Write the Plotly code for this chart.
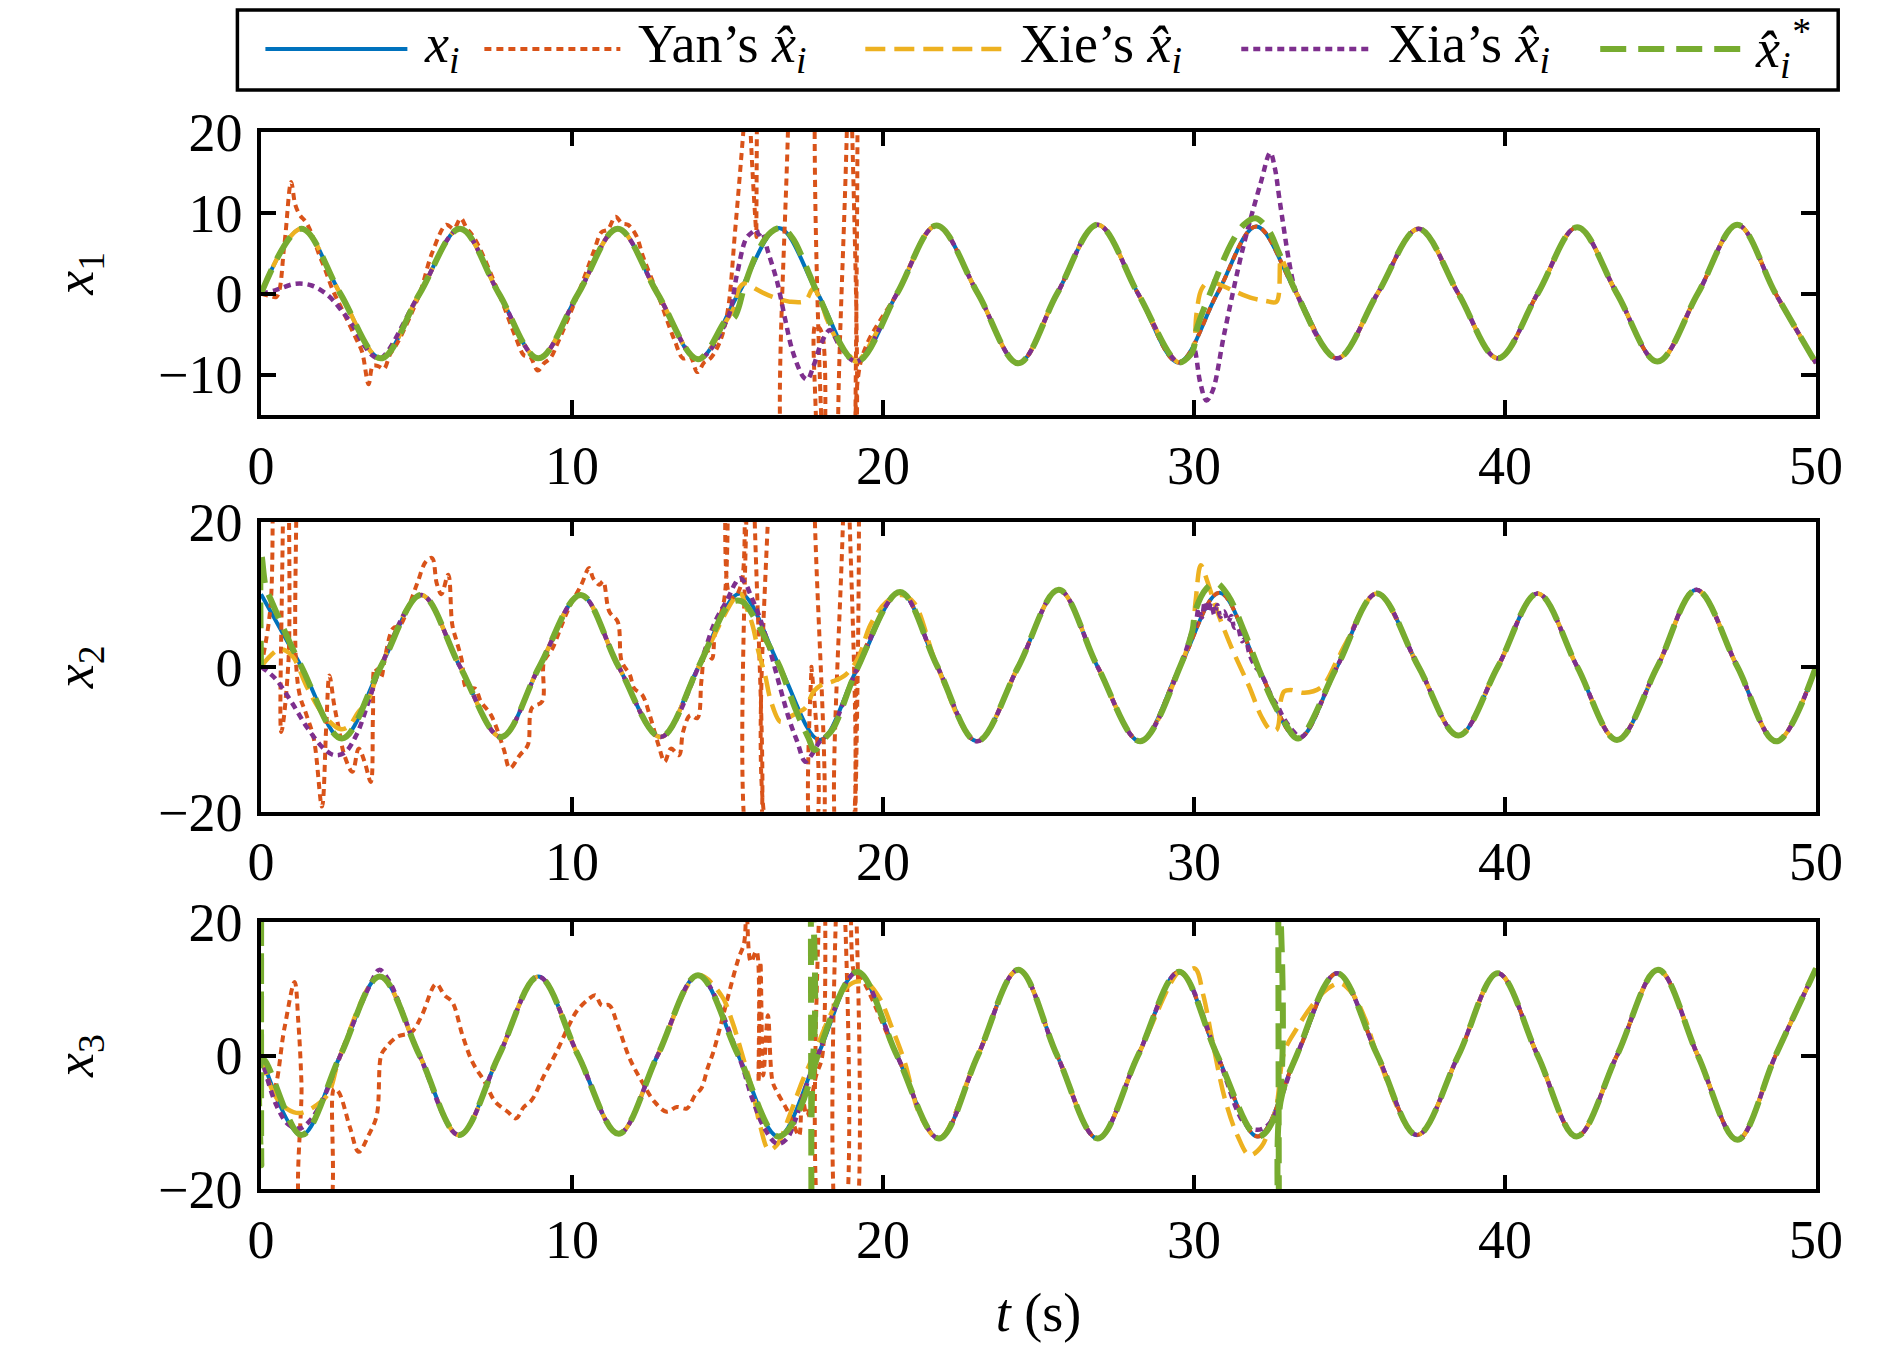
import plotly.graph_objects as go

# ---------------- data ----------------
X_TICKS = [0, 10, 20, 30, 40, 50]
X_TICKTEXT = ["0", "10", "20", "30", "40", "50"]
Y1_TICKS = [-10, 0, 10, 20]
Y1_TICKTEXT = ["\u221210", "0", "10", "20"]
Y23_TICKS = [-20, 0, 20]
Y23_TICKTEXT = ["\u221220", "0", "20"]

# true states x_i : peaks / zero crossings / troughs (time s, value)
T1 = [0, 1.3, 2.55, 3.85, 5.1, 6.4, 7.65, 8.92, 10.2, 11.47, 12.75, 14.05, 15.35, 16.65,
      17.9, 19.15, 20.45, 21.72, 23.05, 24.35, 25.6, 26.9, 28.2, 29.5, 30.75, 32.0, 33.3,
      34.6, 35.9, 37.22, 38.5, 39.77, 41.05, 42.32, 43.6, 44.9, 46.2, 47.47, 48.7, 50]
X1 = [0, 8.0, 0, -8.0, 0, 8.0, 0, -8.0, 0, 8.0, 0, -8.1, 0, 8.1,
      0, -8.4, 0, 8.4, 0, -8.6, 0, 8.5, 0, -8.5, 0, 8.3, 0,
      -8.0, 0, 8.0, 0, -8.0, 0, 8.2, 0, -8.4, 0, 8.5, 0, -8.6]

T2 = [0, 1.3, 2.6, 3.85, 5.15, 6.4, 7.72, 8.95, 10.28, 11.5, 12.85, 14.07, 15.4, 16.68,
      17.97, 19.2, 20.55, 21.75, 23.02, 24.35, 25.65, 26.9, 28.27, 29.55, 30.82, 32.05,
      33.35, 34.6, 35.88, 37.22, 38.5, 39.77, 41.05, 42.32, 43.6, 44.9, 46.15, 47.47, 48.72, 50]
X2 = [10.0, 0, -9.9, 0, 9.9, 0, -9.7, 0, 9.9, 0, -9.7, 0, 10.1, 0,
      -10.1, 0, 10.3, 0, -10.3, 0, 10.6, 0, -10.3, 0, 10.2, 0,
      -9.9, 0, 10.1, 0, -9.5, 0, 10.1, 0, -10.1, 0, 10.6, 0, -10.3, 0]

T3 = [0, 1.3, 2.55, 3.82, 5.1, 6.37, 7.65, 8.92, 10.2, 11.5, 12.75, 14.05, 15.35, 16.63,
      17.9, 19.17, 20.45, 21.8, 23.05, 24.35, 25.6, 26.9, 28.2, 29.52, 30.75, 32.05, 33.3,
      34.6, 35.9, 37.17, 38.5, 39.77, 41.05, 42.3, 43.6, 44.92, 46.2, 47.47, 48.7, 50]
X3 = [0, -11.9, 0, 11.8, 0, -11.9, 0, 11.8, 0, -11.7, 0, 12.0, 0, -12.1,
      0, 12.5, 0, -12.4, 0, 12.8, 0, -12.4, 0, 12.5, 0, -12.1, 0,
      12.3, 0, -11.9, 0, 12.3, 0, -12.1, 0, 12.8, 0, -12.6, 0, 13.0]

# ---- estimates: where they differ from x_i, (t, value) ----
# panel 1 (x1)
YAN1 = [(0, 0), (0.3, -0.3), (0.5, -0.4), (0.75, 6.0), (0.97, 13.8), (1.1, 11.0), (1.25, 9.7),
        (1.45, 8.8), (1.65, 7.2), (1.85, 5.0), (2.05, 3.1), (2.3, 0.5), (2.55, -1.5), (2.8, -3.5),
        (3.05, -5.5), (3.25, -7.2), (3.46, -11.2), (3.6, -8.9), (3.78, -9.0), (3.95, -9.3),
        (4.15, -7.5), (4.4, -6.0), (5.1, 0.0), (5.5, 5.0), (5.96, 8.5), (6.2, 8.0), (6.42, 9.3),
        (6.6, 8.2), (6.9, 6.6), (7.65, 0.0), (8.2, -5.5), (8.45, -7.6), (8.65, -7.8), (8.9, -9.5),
        (9.1, -8.6), (9.3, -8.0), (9.55, -6.0), (10.2, 0.0), (10.7, 5.2), (10.95, 7.6),
        (11.15, 7.9), (11.4, 9.5), (11.6, 8.7), (11.8, 8.5), (12.06, 7.2), (12.3, 4.4),
        (12.75, 0.0), (13.3, -5.8), (13.57, -8.0), (13.8, -7.8), (14.03, -9.7), (14.25, -8.5),
        (14.45, -8.0), (14.75, -6.0), (15.0, -2.3), (15.25, 8.0), (15.55, 22.0), (15.9, 40.0),
        (15.93, 7.0), (15.97, 40.0), (16.65, 40.0), (17.0, -25.0), (17.65, -25.0), (17.83, -3.9),
        (18.03, -4.8), (18.1, -25.0), (18.16, 40.0), (18.6, 40.0), (18.72, -25.0), (18.95, -25.0),
        (19.0, 40.0), (19.05, 40.0), (19.12, -25.0), (19.3, -8.2)]
XIE1_A = [(15.0, -3.1), (15.2, -1.8), (15.4, 0.8), (15.6, 1.3), (15.9, 0.6), (16.2, 0.0),
          (16.6, -0.6), (17.0, -1.0), (17.5, -0.9), (17.75, 0.6), (17.97, -0.6), (18.2, -3.2),
          (18.56, -6.0), (18.95, -7.8)]
XIE1_B = [(29.9, -7.5), (30.0, -6.6), (30.08, -2.5), (30.25, 0.6), (30.5, 1.5), (30.9, 1.0),
          (31.3, 0.3), (31.9, -0.6), (32.3, -0.9), (32.65, -1.0), (32.8, 4.3), (33.0, 2.7)]
XIA1_A = [(0, 0), (0.45, 0.4), (1.1, 1.2), (1.63, 1.0), (2.15, -0.2), (2.55, -1.9), (2.94, -3.9),
          (3.3, -6.3), (3.6, -7.7)]
XIA1_B = [(15.0, -3.1), (15.3, 2.3), (15.6, 6.8), (15.8, 7.6), (15.93, 7.9), (16.0, 7.3),
          (16.1, 7.6), (16.3, 5.2), (16.6, 1.4), (16.85, -3.1), (17.1, -7.2), (17.44, -10.3),
          (17.57, -10.6), (17.77, -8.9), (18.03, -6.0), (18.3, -4.5), (18.6, -6.4)]
XIA1_C = [(29.9, -7.5), (30.0, -6.8), (30.2, -11.0), (30.4, -13.2), (30.6, -12.0), (30.97, -5.0),
          (31.56, 5.4), (32.14, 13.6), (32.45, 17.4), (32.6, 15.5), (32.75, 11.6), (33.05, 4.1),
          (33.2, 1.2)]
STAR1_A = [(15.0, -3.1), (15.2, -3.0), (15.35, -1.8), (15.55, 1.0), (16.0, 5.4), (16.4, 7.6),
           (16.75, 8.1), (17.1, 6.8), (17.4, 4.5), (17.65, 2.2)]
STAR1_B = [(29.9, -7.5), (30.0, -6.6), (30.08, -4.5), (30.6, 0.8), (31.2, 6.2), (31.6, 8.5),
           (31.98, 9.3), (32.4, 7.8), (32.7, 5.3), (33.0, 2.7)]

# panel 2 (x2)
YAN2 = [(0, 0), (0.3, 8.0), (0.52, 40.0), (0.6, 40.0), (0.65, -9.0), (0.88, 0.5), (1.0, 40.0),
        (1.06, 40.0), (1.12, 1.0), (1.25, -4.0), (1.45, -6.5), (1.7, -10.0), (1.96, -19.3),
        (2.1, -8.0), (2.2, -1.2), (2.35, -5.2), (2.5, -8.5), (2.68, -12.2), (2.94, -14.5),
        (3.14, -11.3), (3.33, -13.1), (3.53, -15.9), (3.6, -6.7), (3.66, -0.2), (3.85, -1.5),
        (4.0, 1.6), (4.25, 5.3), (4.45, 5.6), (4.75, 8.3), (5.04, 11.7), (5.3, 14.5), (5.5, 15.0),
        (5.65, 11.5), (5.8, 10.0), (6.02, 12.7), (6.15, 5.8), (6.29, 3.5), (6.45, 1.0),
        (6.61, -3.0), (6.88, -3.0), (7.07, -4.8), (7.4, -6.7), (7.8, -11.3), (8.0, -14.0),
        (8.32, -12.2), (8.58, -10.8), (8.71, -5.7), (9.04, -4.8), (9.1, 0.7), (9.37, 2.5),
        (9.63, 5.3), (9.9, 8.1), (10.3, 11.3), (10.55, 13.6), (10.68, 12.2), (10.88, 11.3),
        (11.0, 11.8), (11.2, 7.6), (11.47, 6.2), (11.6, 0.7), (11.86, -1.1), (12.0, -3.0),
        (12.26, -3.9), (12.5, -6.7), (12.78, -10.8), (12.98, -13.1), (13.18, -11.3),
        (13.44, -12.2), (13.57, -9.0), (13.8, -6.7), (14.03, -7.1), (14.16, -2.0), (14.3, 2.5),
        (14.5, 1.1), (14.6, 4.8), (14.9, 9.4), (15.0, 40.0), (15.05, 10.0), (15.2, 9.5),
        (15.45, 11.5), (15.58, 40.0), (15.62, 40.0), (15.7, -25.0), (15.95, -25.0), (16.0, 40.0),
        (16.25, 40.0), (16.5, -25.0), (17.66, -25.0), (17.7, 0.0), (17.74, -25.0), (17.98, -25.0),
        (18.02, 40.0), (18.5, 40.0), (18.6, -25.0), (18.9, -25.0), (18.95, 40.0), (19.05, 40.0),
        (19.1, -25.0), (19.16, -1.0)]
XIE2_A = [(0, 0), (0.3, 1.5), (0.58, 2.4), (0.8, 2.2), (1.04, 1.3), (1.5, -3.0), (2.02, -6.7),
          (2.55, -8.6), (2.8, -8.3), (3.14, -6.2), (3.4, -5.0)]
XIE2_B = [(15.4, 10.1), (15.6, 8.2), (15.8, 5.8), (16.0, 2.0), (16.2, -1.0), (16.4, -4.8),
          (16.7, -7.6), (16.9, -7.2), (17.1, -6.7), (17.5, -5.7), (17.77, -3.4), (18.03, -2.5),
          (18.4, -2.0), (18.8, -1.1), (19.2, 1.2), (19.6, 5.8), (20.1, 8.9), (20.6, 9.9),
          (21.0, 8.8)]
XIE2_C = [(29.95, 5.0), (30.05, 9.0), (30.22, 14.0), (30.42, 11.9), (30.7, 8.2), (31.2, 2.7),
          (31.78, -2.8), (32.17, -6.9), (32.46, -8.7), (32.66, -8.7), (32.8, -4.5), (32.9, -3.4),
          (33.1, -3.2), (33.55, -3.6), (34.1, -2.8), (34.6, 0.9), (34.9, 3.4)]
XIA2_A = [(0, 0), (0.45, -1.6), (0.97, -4.8), (1.5, -8.5), (2.02, -11.3), (2.35, -12.2),
          (2.68, -11.9), (3.07, -9.4), (3.46, -4.8)]
XIA2_B = [(14.6, 6.2), (15.0, 9.3), (15.25, 11.5), (15.4, 12.2), (15.6, 11.3), (15.73, 10.0),
          (16.0, 7.2), (16.35, 2.5), (16.7, -3.0), (17.0, -7.5), (17.24, -10.3), (17.5, -13.1),
          (17.7, -12.2), (17.97, -10.3), (18.3, -9.0)]
XIA2_C = [(29.95, 5.0), (30.05, 5.9), (30.15, 8.0), (30.25, 6.8), (30.35, 9.0), (30.45, 7.5),
          (30.55, 8.8), (30.65, 7.2), (30.75, 8.5), (30.85, 6.9), (30.97, 7.6), (31.1, 6.2),
          (31.2, 7.0), (31.3, 5.4), (31.4, 5.5), (31.55, 3.5), (31.65, 3.9), (31.78, 1.8),
          (31.97, 0.0), (32.1, -0.6), (32.27, -1.9), (32.4, -3.2), (32.56, -4.6), (32.7, -5.5),
          (32.86, -6.9), (33.15, -8.7), (33.45, -9.7)]
STAR2_A = [(0, 0), (0.01, 15.4), (0.15, 11.0), (0.3, 9.4)]
STAR2_B = [(15.1, 8.8), (15.47, 9.0), (15.9, 6.5), (16.3, 3.2), (16.68, 0.0), (17.2, -6.0),
           (17.6, -9.8), (17.8, -11.5), (18.1, -10.0), (18.4, -8.5)]
STAR2_C = [(29.95, 5.0), (30.05, 7.8), (30.4, 10.8), (30.7, 11.6), (31.1, 9.8), (31.6, 5.0),
           (32.1, -0.5), (32.5, -4.5), (32.9, -7.6)]

# panel 3 (x3)
YAN3 = [(0, 0), (0.4, -5.0), (0.75, 4.0), (1.08, 11.0), (1.2, 5.0), (1.3, -4.0), (1.4, -25.0),
        (2.1, -25.0), (2.35, -5.0), (2.5, -5.5), (2.87, -10.9), (3.14, -14.4), (3.46, -11.9),
        (3.72, -9.0), (3.86, 0.0), (4.0, 1.1), (4.38, 2.8), (4.84, 3.5), (5.17, 6.0),
        (5.63, 10.7), (5.9, 9.0), (6.15, 8.0), (6.48, 3.0), (6.8, -1.0), (7.2, -4.0),
        (7.53, -6.9), (7.93, -8.4), (8.2, -9.4), (8.45, -7.7), (8.7, -6.7), (9.1, -3.0),
        (9.5, 0.5), (9.9, 4.5), (10.16, 6.7), (10.55, 8.5), (10.75, 9.0), (10.95, 7.5),
        (11.2, 7.5), (11.47, 4.5), (11.86, -0.5), (12.26, -4.0), (12.65, -6.9), (13.04, -8.4),
        (13.37, -7.7), (13.7, -7.9), (13.96, -5.9), (14.16, -4.9), (14.36, -1.9), (14.55, 0.6),
        (14.75, 4.0), (15.0, 8.5), (15.34, 14.3), (15.54, 17.0), (15.6, 25.0), (15.75, 14.0),
        (15.93, 15.6), (16.0, -4.0), (16.06, 14.0), (16.15, -3.0), (16.3, 6.0), (16.45, -3.9),
        (16.6, -5.5), (16.9, -8.0), (17.1, -10.0), (17.3, -12.0), (17.4, -6.0), (17.55, -9.0),
        (17.85, -3.0), (18.05, 0.0), (18.1, 40.0), (18.14, -30.0), (18.58, -30.0), (18.62, 40.0),
        (18.66, -30.0), (18.97, -30.0), (19.02, 40.0), (19.08, 12.4)]
XIE3_A = [(0, 0), (0.45, -6.0), (0.85, -8.0), (1.23, -8.6), (1.63, -7.9), (2.15, -5.8)]
XIE3_B = [(14.8, 9.0), (15.15, 5.1), (15.45, 0.5), (15.8, -5.2), (16.05, -10.5), (16.33, -14.1),
          (16.6, -13.3), (17.0, -8.9), (17.4, -3.9), (17.77, 0.1), (18.3, 6.0), (18.7, 9.5),
          (19.1, 11.0), (19.5, 10.8), (19.9, 8.5), (20.3, 4.0), (20.7, -1.0), (21.2, -9.0)]
XIE3_C = [(29.7, 12.3), (30.03, 13.0), (30.3, 9.0), (30.6, 2.0), (31.0, -6.6), (31.4, -12.0),
          (31.78, -14.9), (32.17, -13.6), (32.45, -10.5), (32.65, -7.6), (32.9, 0.5), (33.3, 4.0),
          (33.8, 7.5), (34.3, 10.0), (34.7, 10.8), (35.1, 9.2), (35.5, 5.5)]
XIA3_A = [(0, 0), (0.5, -7.5), (0.9, -10.4), (1.25, -10.9), (1.6, -9.6), (2.0, -6.5)]
XIA3_B = [(3.5, 10.5), (3.8, 12.8), (4.1, 11.3)]
XIA3_C = [(15.8, -6.5), (16.2, -11.0), (16.6, -13.2), (16.9, -12.5), (17.2, -9.4), (17.5, -5.0)]
XIA3_D = [(31.6, -10.0), (32.0, -11.1), (32.4, -10.3)]
STAR3_A = [(0, 0), (0.005, 30.0), (0.012, -16.4), (0.06, -0.6)]
STAR3_B = [(17.62, -4.1), (17.67, 30.0), (17.71, -30.0), (17.76, -2.6)]
STAR3_C = [(32.66, -8.3), (32.7, 30.0), (32.74, -30.0), (32.78, -7.0)]

NAMES = ["<i>x<sub>i</sub></i>", "Yan\u2019s <i>x\u0302<sub>i</sub></i>",
         "Xie\u2019s <i>x\u0302<sub>i</sub></i>", "Xia\u2019s <i>x\u0302<sub>i</sub></i>",
         "<i>x\u0302<sub>i</sub><sup>*</sup></i>"]
Y_TITLES = ["<i>x</i><sub>1</sub>", "<i>x</i><sub>2</sub>", "<i>x</i><sub>3</sub>"]
X_TITLE = "<i>t</i> (s)"

# ---------------- styling / layout ----------------
FONT = "Liberation Serif"
FS = 54
COLORS = ["#0072BD", "#D95319", "#EDB120", "#7E2F8E", "#77AC30"]
WIDTHS = [4, 4, 4.5, 4.5, 6]
DASHES = ["solid", "7px,5px", "20px,9px", "7px,5px", "26px,12px"]

W, H = 1874, 1335
ML, MR = 252.6, 66.2
PW = W - ML - MR
PANEL_PX = [(123.7, 407.0), (513.7, 803.7), (913.7, 1181.3)]


def xp(px):
    return (px - ML) / PW


def yp(py):
    return 1 - py / H


def splice(tt, vv, segs):
    pts = list(zip(tt, vv))
    for seg in segs:
        a, b = seg[0][0], seg[-1][0]
        pts = [p for p in pts if not (a <= p[0] <= b)]
        pts += list(seg)
    pts.sort(key=lambda p: p[0])
    return [p[0] for p in pts], [p[1] for p in pts]


PANELS = [
    (T1, X1, [[YAN1], [XIE1_A, XIE1_B], [XIA1_A, XIA1_B, XIA1_C], [STAR1_A, STAR1_B]]),
    (T2, X2, [[YAN2], [XIE2_A, XIE2_B, XIE2_C], [XIA2_A, XIA2_B, XIA2_C],
              [STAR2_A, STAR2_B, STAR2_C]]),
    (T3, X3, [[YAN3], [XIE3_A, XIE3_B, XIE3_C], [XIA3_A, XIA3_B, XIA3_C, XIA3_D],
              [STAR3_A, STAR3_B, STAR3_C]]),
]

fig = go.Figure()
for k, (tt, vv, est) in enumerate(PANELS):
    ax = "" if k == 0 else str(k + 1)
    series = [(tt, vv)] + [splice(tt, vv, segs) for segs in est]
    for j, (sx, sy) in enumerate(series):
        fig.add_trace(go.Scatter(
            x=sx, y=sy, mode="lines", name=NAMES[j], showlegend=False,
            xaxis="x" + ax, yaxis="y" + ax,
            line=dict(color=COLORS[j], width=WIDTHS[j], dash=DASHES[j],
                      shape="spline", smoothing=1.0)))

axis_common = dict(showline=True, linecolor="black", linewidth=3.5, mirror="ticks",
                   ticks="inside", ticklen=15, tickwidth=3.5, tickcolor="black",
                   showgrid=False, zeroline=False, automargin=False,
                   tickfont=dict(family=FONT, size=FS, color="black"))

layout = dict(width=W, height=H, margin=dict(l=ML, r=MR, t=0, b=0, pad=0),
              paper_bgcolor="white", plot_bgcolor="white", showlegend=False,
              font=dict(family=FONT, size=FS, color="black"))
for k in range(3):
    ax = "" if k == 0 else str(k + 1)
    top, bot = PANEL_PX[k]
    xa = dict(axis_common, domain=[0, 1], range=[0, 50], tickvals=X_TICKS,
              ticktext=X_TICKTEXT, anchor="y" + ax, ticklabelstandoff=0)
    if k == 2:
        xa["title"] = dict(text=X_TITLE, font=dict(family=FONT, size=FS, color="black"),
                           standoff=34)
    if k == 0:
        ya = dict(axis_common, domain=[yp(bot), yp(top)], range=[-15, 20],
                  tickvals=Y1_TICKS, ticktext=Y1_TICKTEXT)
    else:
        ya = dict(axis_common, domain=[yp(bot), yp(top)], range=[-20, 20],
                  tickvals=Y23_TICKS, ticktext=Y23_TICKTEXT)
    ya.update(anchor="x" + ax, ticklabelstandoff=4,
              title=dict(text=Y_TITLES[k], font=dict(family=FONT, size=FS, color="black"),
                         standoff=48))
    layout["xaxis" + ax] = xa
    layout["yaxis" + ax] = ya

# legend drawn as a boxed row (samples + labels)
LEG_SAMPLES = [(257, 399), (476, 612), (857, 998), (1233, 1365), (1592, 1737)]
LEG_TEXT_X = [414, 628, 1010, 1378, 1745]
shapes = [dict(type="rect", xref="paper", yref="paper", x0=xp(229), x1=xp(1830),
               y0=yp(82), y1=yp(2), line=dict(color="black", width=3.5), fillcolor="white",
               layer="above")]
annotations = []
for j in range(5):
    a, b = LEG_SAMPLES[j]
    shapes.append(dict(type="line", xref="paper", yref="paper", x0=xp(a), x1=xp(b),
                       y0=yp(41), y1=yp(41),
                       line=dict(color=COLORS[j], width=WIDTHS[j], dash=DASHES[j])))
    annotations.append(dict(xref="paper", yref="paper", x=xp(LEG_TEXT_X[j]), y=yp(40),
                            xanchor="left", yanchor="middle", text=NAMES[j], showarrow=False,
                            font=dict(family=FONT, size=FS, color="black")))
layout["shapes"] = shapes
layout["annotations"] = annotations

fig.update_layout(**layout)
fig.write_html("out.html")
